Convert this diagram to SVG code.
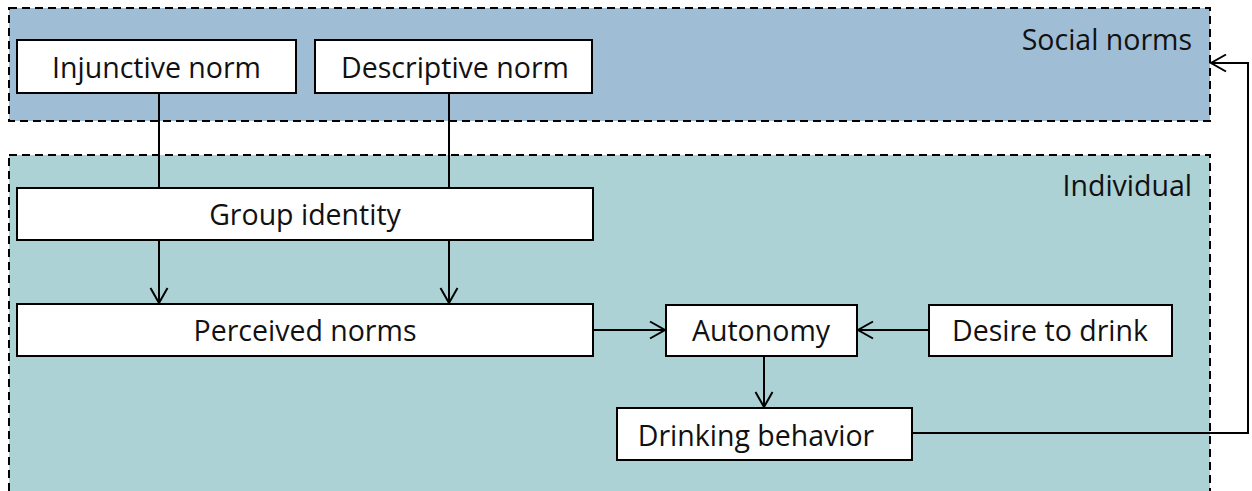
<svg xmlns="http://www.w3.org/2000/svg" width="1252" height="491" viewBox="0 0 1252 491">
<defs>
<style>
.panel{stroke:#000;stroke-width:2;stroke-dasharray:8,5}
.box{fill:#fff;stroke:#000;stroke-width:2}
.t{font-family:"Open Sans","DejaVu Sans",sans-serif;font-size:28.5px;fill:#111;text-anchor:middle}
.pt{font-family:"Open Sans","DejaVu Sans",sans-serif;font-size:28.5px;fill:#111;text-anchor:end}
.c{stroke:#000;stroke-width:2;fill:none}
</style>
<marker id="arr" markerWidth="18" markerHeight="20" refX="16" refY="10" orient="auto" markerUnits="userSpaceOnUse">
<path d="M1,1.5 L16,10 L1,18.5" fill="none" stroke="#000" stroke-width="2"/>
</marker>
</defs>
<rect width="1252" height="491" fill="#fff"/>
<g id="social-panel">
<rect class="panel" x="9" y="8" width="1201" height="113" fill="#9fbdd4"/>
<text class="pt" x="1192" y="50">Social norms</text>
</g>
<g id="individual-panel">
<rect class="panel" x="9" y="155" width="1201" height="345" fill="#acd2d5"/>
<text class="pt" x="1192" y="196">Individual</text>
</g>
<g id="connectors">
<line class="c" x1="159" y1="93" x2="159" y2="188"/>
<line class="c" x1="449" y1="93" x2="449" y2="188"/>
<line class="c" x1="159" y1="240" x2="159" y2="303" marker-end="url(#arr)"/>
<line class="c" x1="449" y1="240" x2="449" y2="303" marker-end="url(#arr)"/>
<line class="c" x1="594" y1="330" x2="665" y2="330" marker-end="url(#arr)"/>
<line class="c" x1="929" y1="330" x2="858" y2="330" marker-end="url(#arr)"/>
<line class="c" x1="764" y1="356" x2="764" y2="407" marker-end="url(#arr)"/>
<polyline class="c" points="912,433 1248,433 1248,63 1211,63" marker-end="url(#arr)"/>
</g>
<g id="injunctive-norm">
<rect class="box" x="17" y="40" width="279" height="53"/>
<text class="t" x="156.5" y="78">Injunctive norm</text>
</g>
<g id="descriptive-norm">
<rect class="box" x="315" y="40" width="277" height="53"/>
<text class="t" x="455" y="78">Descriptive norm</text>
</g>
<g id="group-identity">
<rect class="box" x="17" y="188" width="576" height="52"/>
<text class="t" x="305" y="225">Group identity</text>
</g>
<g id="perceived-norms">
<rect class="box" x="17" y="304" width="576" height="52"/>
<text class="t" x="305" y="341">Perceived norms</text>
</g>
<g id="autonomy">
<rect class="box" x="666" y="305" width="191" height="51"/>
<text class="t" x="761" y="341">Autonomy</text>
</g>
<g id="desire-to-drink">
<rect class="box" x="929" y="305" width="243" height="51"/>
<text class="t" x="1050" y="341">Desire to drink</text>
</g>
<g id="drinking-behavior">
<rect class="box" x="617" y="408" width="295" height="52"/>
<text class="t" x="756" y="446">Drinking behavior</text>
</g>
</svg>
